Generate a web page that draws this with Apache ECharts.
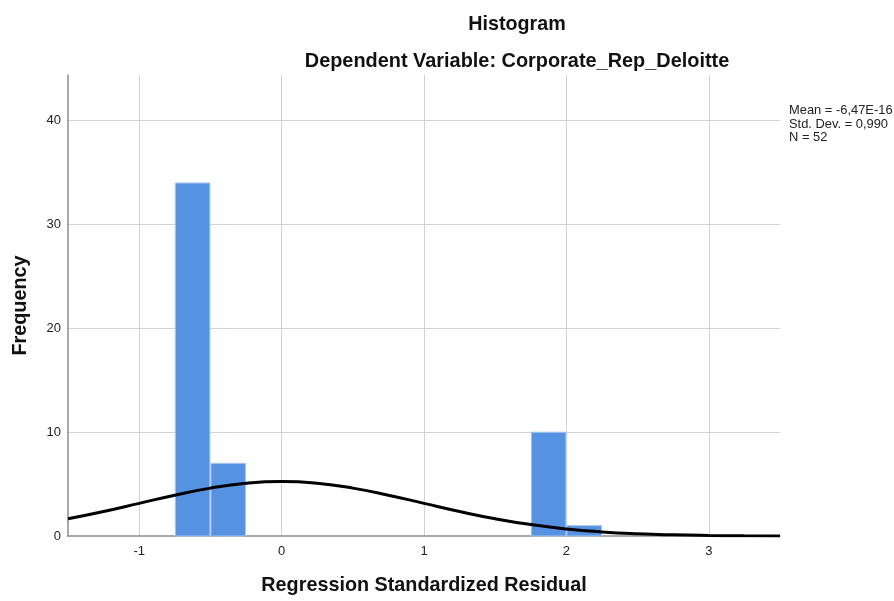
<!DOCTYPE html>
<html>
<head>
<meta charset="utf-8">
<script src="https://cdn.jsdelivr.net/npm/echarts@6/dist/echarts.min.js"></script>
<style>html,body{margin:0;padding:0;background:#fff;}#c{width:894px;height:601px;}</style>
</head>
<body>
<div id="c"></div>
<script>
const titleText = 'Histogram';
const subtitleText = 'Dependent Variable: Corporate_Rep_Deloitte';
const xName = 'Regression Standardized Residual';
const yName = 'Frequency';
const statsLines = ['Mean = -6,47E-16', 'Std. Dev. = 0,990', 'N = 52'];

const binStart = [-0.75, -0.5, 1.75, 2.0];
const binEnd = [-0.5, -0.25, 2.0, 2.25];
const counts = [34, 7, 10, 1];

const curveX = [-1.5, -1.25, -1, -0.75, -0.5, -0.25, 0, 0.25, 0.5, 0.75, 1, 1.25, 1.5, 1.75, 2, 2.25, 2.5, 2.75, 3, 3.25, 3.5];
const curveY = [1.662, 2.360, 3.145, 3.932, 4.612, 5.074, 5.239, 5.074, 4.612, 3.932, 3.145, 2.360, 1.662, 1.098, 0.681, 0.396, 0.216, 0.111, 0.053, 0.024, 0.010];

const xMin = -1.5, xMax = 3.5;
const yMin = 0, yMax = 44.4, yStep = 10;

const FONT = 'Liberation Sans, Arial, sans-serif';
const chart = echarts.init(document.getElementById('c'), null, {renderer: 'canvas'});

const barData = binStart.map((s, i) => [s, binEnd[i], counts[i]]);
const curveData = curveX.map((x, i) => [x, curveY[i]]);

chart.setOption({
  animation: false,
  backgroundColor: '#ffffff',
  title: [
    {text: titleText, left: 512, top: 10, textAlign: 'center',
     textStyle: {fontFamily: FONT, fontSize: 19.7, fontWeight: 'bold', color: '#111'}},
    {text: subtitleText, left: 512, top: 47, textAlign: 'center',
     textStyle: {fontFamily: FONT, fontSize: 19.9, fontWeight: 'bold', color: '#111'}}
  ],
  graphic: statsLines.map((t, i) => ({
    type: 'text', left: 789, top: 104 + i * 13.5,
    style: {text: t, font: '12.9px ' + FONT, fill: '#222'}
  })),
  grid: {left: 68, right: 114, top: 75, bottom: 64, containLabel: false},
  xAxis: {
    type: 'value', min: xMin, max: xMax,
    name: xName, nameLocation: 'middle', nameGap: 40,
    nameTextStyle: {fontFamily: FONT, fontSize: 19.8, fontWeight: 'bold', color: '#111'},
    axisLine: {show: true, onZero: false, lineStyle: {color: '#8c8c8c', width: 1.5}},
    axisTick: {show: false},
    axisLabel: {fontFamily: FONT, fontSize: 13, color: '#222', margin: 9,
      showMinLabel: false, showMaxLabel: false,
      formatter: v => Number.isInteger(v) ? String(v) : ''},
    splitLine: {show: true, showMinLine: false, showMaxLine: false, lineStyle: {color: '#d2d2d2', width: 1}}
  },
  yAxis: {
    type: 'value', min: yMin, max: yMax, interval: yStep,
    name: yName, nameLocation: 'middle', nameGap: 37, nameRotate: 90,
    nameTextStyle: {fontFamily: FONT, fontSize: 19.8, fontWeight: 'bold', color: '#111'},
    axisLine: {show: true, onZero: false, lineStyle: {color: '#8c8c8c', width: 1.5}},
    axisTick: {show: false},
    axisLabel: {fontFamily: FONT, fontSize: 13, color: '#222', margin: 7, showMaxLabel: false,
      padding: [3, 0, 0, 0],
      formatter: v => (v % yStep === 0) ? String(v) : ''},
    splitLine: {show: true, showMinLine: false, showMaxLine: false, lineStyle: {color: '#d2d2d2', width: 1}}
  },
  series: [
    {
      type: 'custom',
      data: barData,
      z: 2,
      renderItem: function (params, api) {
        const p0 = api.coord([api.value(0), api.value(2)]);
        const p1 = api.coord([api.value(1), 0]);
        return {
          type: 'rect',
          shape: {x: p0[0] + 0.5, y: p0[1], width: p1[0] - p0[0] - 1, height: p1[1] - p0[1]},
          style: {fill: '#5592e1', stroke: '#a9c7f0', lineWidth: 1}
        };
      },
      encode: {x: [0, 1], y: 2}
    },
    {
      type: 'line',
      data: curveData,
      smooth: true,
      showSymbol: false,
      z: 5,
      lineStyle: {color: '#000', width: 3}
    }
  ]
});
</script>
</body>
</html>
